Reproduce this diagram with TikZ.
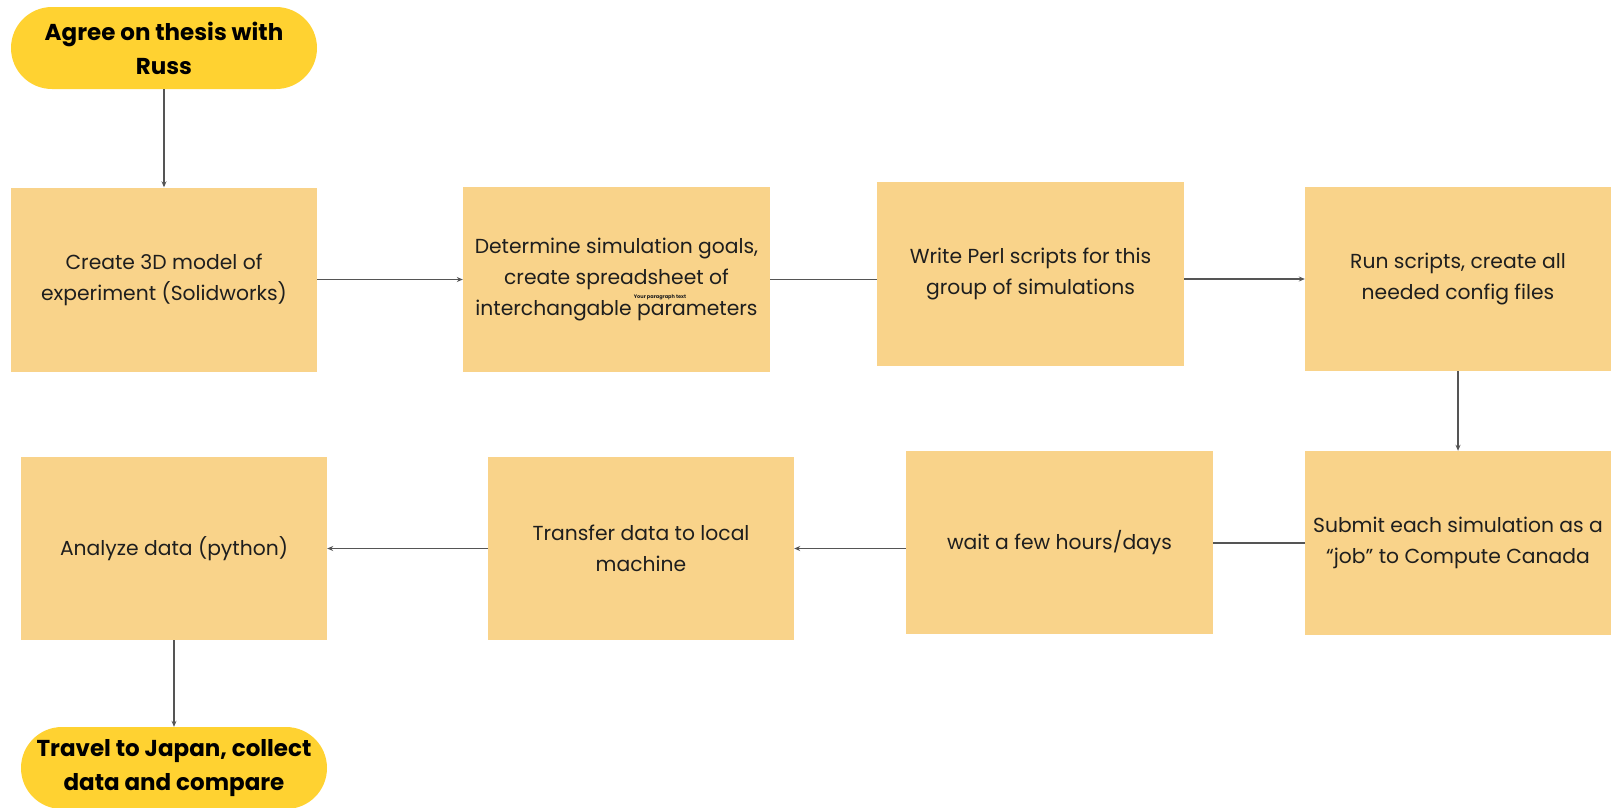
\documentclass[tikz,border=0pt]{standalone}
\usepackage{fontspec}
\setmainfont{Poppins}
\usetikzlibrary{arrows.meta}
\definecolor{pillc}{HTML}{FFD231}
\definecolor{boxc}{HTML}{F9D38A}
\definecolor{linec}{HTML}{555555}
\definecolor{txtc}{HTML}{1E1E1E}
\tikzset{
  pill/.style={fill=pillc, rounded corners=41pt, minimum width=306pt, minimum height=82pt, inner sep=0pt, align=center, text=black, font=\fontsize{23}{34}\selectfont\bfseries, execute at begin node={\vspace*{3pt}}},
  stepbox/.style={fill=boxc, minimum width=306pt, minimum height=184pt, inner sep=0pt, align=center, text=txtc, font=\fontsize{20.3}{31}\selectfont, execute at begin node={\vspace*{6pt}}},
  conn/.style={draw=linec, line width=1.3pt},
  arr/.style={conn, -{Stealth[length=6pt,width=5pt]}}
}
\begin{document}
\begin{tikzpicture}[x=1pt,y=-1pt]
\useasboundingbox (0,0) rectangle (1611,807);
\clip (0,0) rectangle (1611,807);
\node[pill] (p1) at (164,48) {Agree on thesis with\\Russ};
\node[stepbox] (b1) at (164,279.5) {Create 3D model of\\experiment (Solidworks)};
\node[stepbox, minimum width=307pt, minimum height=185pt] (b2) at (616.5,279.5) {Determine simulation goals,\\create spreadsheet of\\interchangable parameters};
\node[font=\fontsize{5}{6}\selectfont\bfseries, text=txtc, inner sep=0pt] (tiny) at (660,297) {Your paragraph text};
\node[stepbox, minimum width=307pt] (b3) at (1030.5,274) {Write Perl scripts for this\\group of simulations};
\node[stepbox] (b4) at (1458,279) {Run scripts, create all\\needed config files};
\node[stepbox] (b5) at (1458,543) {Submit each simulation as a\\“job” to Compute Canada};
\node[stepbox, minimum width=307pt, minimum height=183pt] (b6) at (1059.5,542.5) {wait a few hours/days};
\node[stepbox, minimum height=183pt] (b7) at (641,548.5) {Transfer data to local\\machine};
\node[stepbox, minimum height=183pt] (b8) at (174,548.5) {Analyze data (python)};
\node[pill] (p2) at (174,768) {Travel to Japan, collect\\data and compare};
\draw[arr] (p1) -- (b1);
\draw[arr] (b1.east) -- (b2.west);
\draw[conn] (b2.east) -- (b2.east -| b3.west);
\draw[arr] (b3.east |- b4) -- (b4.west);
\draw[arr] (b4.south) -- (b5.north);
\draw[conn] (b5.west) -- (b5.west -| b6.east);
\draw[arr] (b6.west |- b7) -- (b7.east);
\draw[arr] (b7.west) -- (b8.east);
\draw[arr] (b8.south) -- (p2.north);
\end{tikzpicture}
\end{document}
